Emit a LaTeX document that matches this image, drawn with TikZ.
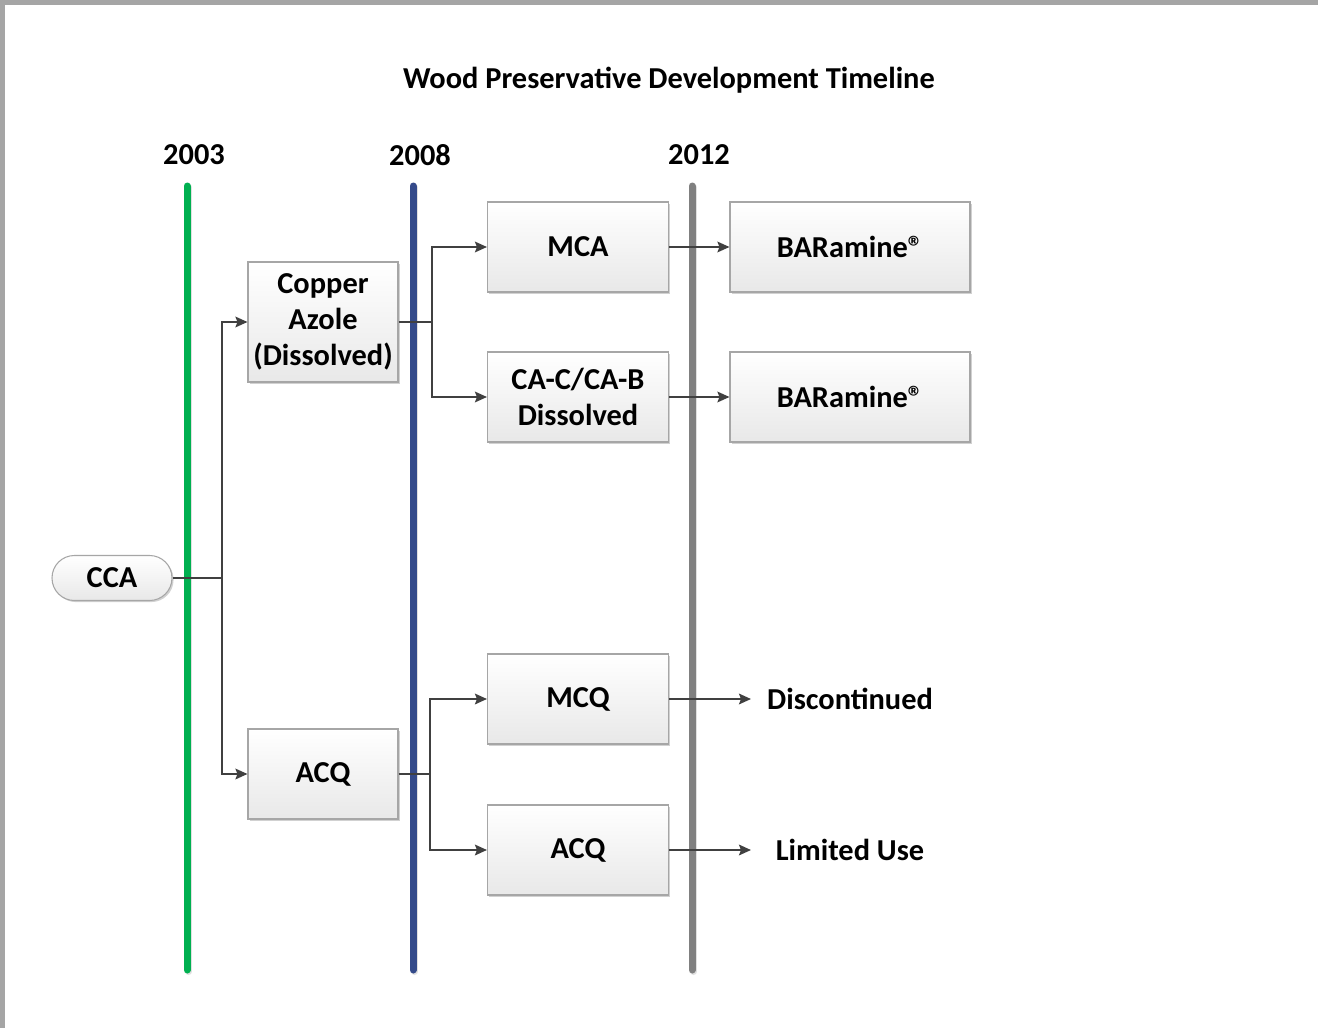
\documentclass[tikz,border=0pt]{standalone}
\usepackage{fontspec}
\setmainfont{Carlito}
\usetikzlibrary{arrows.meta,shadows}
\definecolor{tlgreen}{HTML}{00B050}
\definecolor{tlblue}{HTML}{344A8A}
\definecolor{tlgray}{HTML}{808080}
\definecolor{connc}{HTML}{404040}
\definecolor{boxborder}{HTML}{A6A6A6}
\definecolor{framec}{HTML}{A5A5A5}
\begin{document}
\begin{tikzpicture}[x=0.75pt,y=-0.75pt,
  txt/.style={font=\fontsize{22.8}{27}\selectfont\bfseries, align=center, text=black},
  box/.style={txt, draw=boxborder, line width=0.8pt, top color=white, bottom color=black!9,
    drop shadow={shadow xshift=1.2pt, shadow yshift=-1.2pt, fill=black, opacity=0.18},
    inner sep=0pt},
  smallbox/.style={box, minimum width=135.75pt, minimum height=67.5pt},
  widebox/.style={box, minimum width=180pt, minimum height=67.5pt},
  tall/.style={box, minimum width=112.5pt, minimum height=90pt},
  pill/.style={box, minimum width=90pt, minimum height=33.75pt, rounded corners=16.8pt},
  yearline/.style={line width=5.25pt, line cap=round},
  conn/.style={draw=connc, line width=1.5pt},
  arr/.style={conn, -{Stealth[length=9pt, width=8pt, inset=1.5pt]}},
  lbl/.style={txt}
]
\useasboundingbox (0,0) rectangle (1318,1028);
\fill[white] (0,0) rectangle (1318,1028);
\fill[framec] (0,0) rectangle (1318,5);
\fill[framec] (0,0) rectangle (5,1028);

\node[txt] (title) at (669,80) {Wood Preservative Development Timeline};

\node[txt] (y2003) at (194,155) {2003};
\node[txt] (y2008) at (420,155) {2008};
\node[txt] (y2012) at (699,155) {2012};

\coordinate (g1) at (187,186); \coordinate (g2) at (187,970);
\coordinate (b1) at (413,186); \coordinate (b2) at (413,970);
\coordinate (r1) at (692,186); \coordinate (r2) at (692,970);
\draw[yearline, black!12] ([shift={(1.5,1.5)}]g1) -- ([shift={(1.5,1.5)}]g2);
\draw[yearline, black!12] ([shift={(1.5,1.5)}]b1) -- ([shift={(1.5,1.5)}]b2);
\draw[yearline, black!12] ([shift={(1.5,1.5)}]r1) -- ([shift={(1.5,1.5)}]r2);
\draw[yearline, tlgreen] (g1) -- (g2);
\draw[yearline, tlblue] (b1) -- (b2);
\draw[yearline, tlgray] (r1) -- (r2);

\node[pill] (cca) at (112,578) {CCA};
\node[tall] (cu) at (323,322) {Copper\\Azole\\(Dissolved)};
\node[tall, minimum height=67.5pt] (acq1) at (323,774) {ACQ};
\node[smallbox] (mca) at (578,247) {MCA};
\node[smallbox] (cac) at (578,397) {CA-C/CA-B\\Dissolved};
\node[smallbox] (mcq) at (578,699) {MCQ};
\node[smallbox] (acq2) at (578,850) {ACQ};
\node[widebox] (bar1) at (850,247) {BARamine®};
\node[widebox] (bar2) at (850,397) {BARamine®};
\node[lbl] (disc) at (850,699) {Discontinued};
\node[lbl] (lim) at (850,850) {Limited Use};

\coordinate (j1) at (222,578);
\coordinate (j2) at (432,322);
\coordinate (j3) at (430,774);
\coordinate (e1) at (751,699);
\coordinate (e2) at (751,850);

\draw[conn] (cca.east) -- (j1);
\draw[arr] (j1) |- (cu.west);
\draw[arr] (j1) |- (acq1.west);
\draw[conn] (cu.east) -- (j2);
\draw[arr] (j2) |- (mca.west);
\draw[arr] (j2) |- (cac.west);
\draw[conn] (acq1.east) -- (j3);
\draw[arr] (j3) |- (mcq.west);
\draw[arr] (j3) |- (acq2.west);
\draw[arr] (mca.east) -- (bar1.west);
\draw[arr] (cac.east) -- (bar2.west);
\draw[arr] (mcq.east) -- (e1);
\draw[arr] (acq2.east) -- (e2);
\end{tikzpicture}
\end{document}
